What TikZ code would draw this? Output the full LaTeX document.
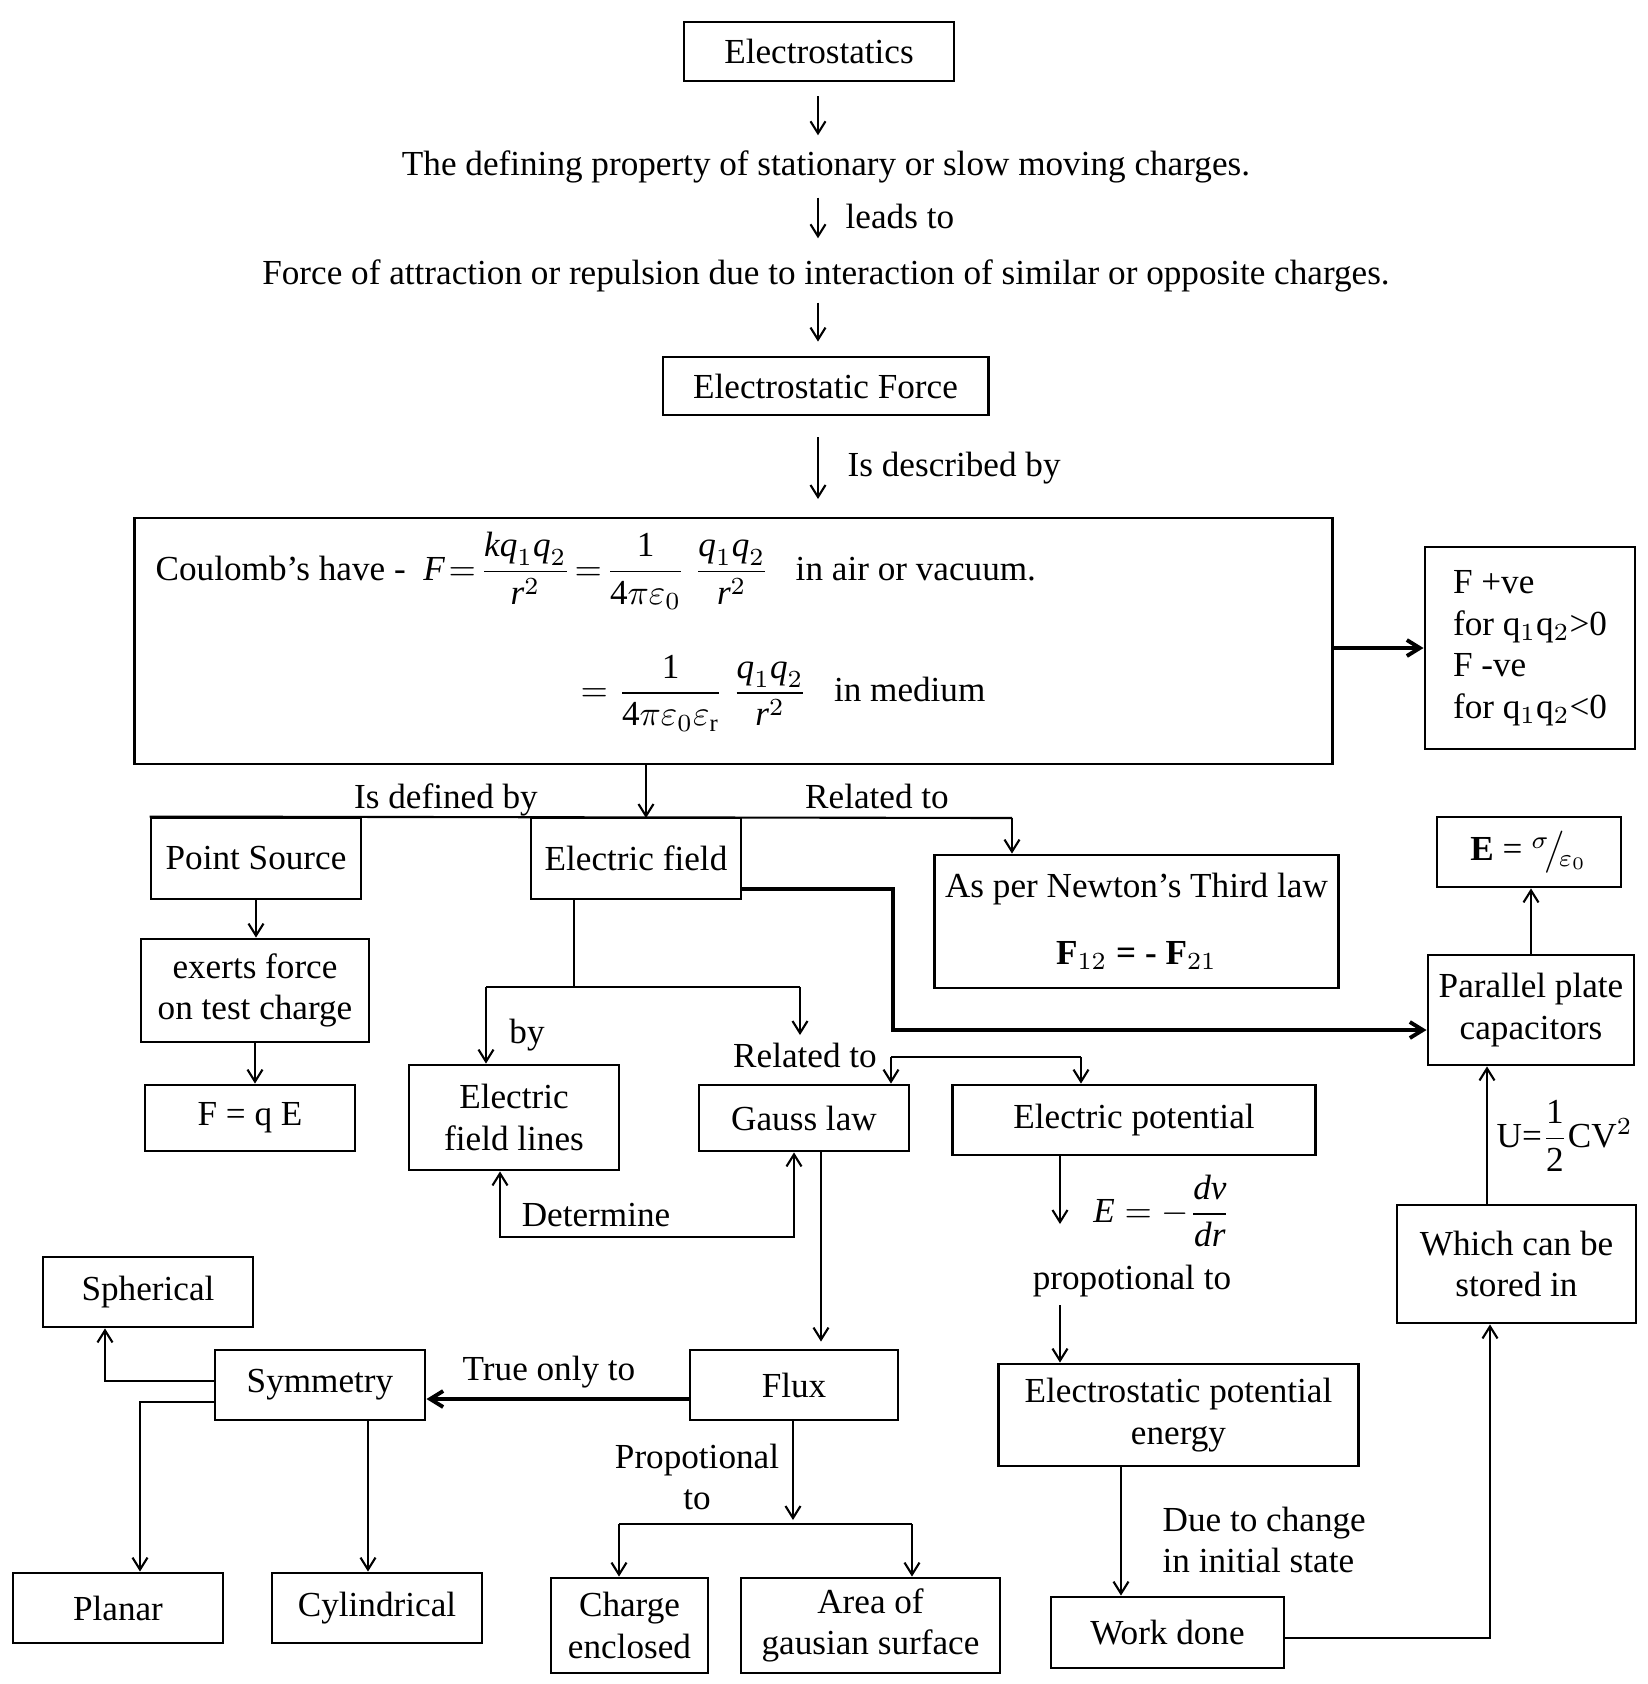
\documentclass[tikz,border=0pt]{standalone}
\usepackage{fontspec}
\setmainfont{Liberation Serif}
\usetikzlibrary{arrows.meta}
\newcommand{\iv}[1]{\textit{#1}}
\begin{document}
\begin{tikzpicture}[x=0.01cm, y=-0.01cm,
		font=\fontsize{10}{11.8}\selectfont,
		box/.style={draw, line width=0.8pt, inner sep=0pt, align=center},
		txt/.style={inner sep=0pt, text height=0.24cm, text depth=0.07cm},
		line/.style={line width=0.6pt},
		link/.style={line width=0.6pt, -{Straight Barb[length=1.2mm, width=1.5mm]}},
		twin/.style={line width=0.6pt, {Straight Barb[length=1.2mm, width=1.5mm]}-{Straight Barb[length=1.2mm, width=1.5mm]}},
		heavy/.style={line width=1.1pt, -{Straight Barb[length=1.3mm, width=1.6mm]}}]
		\useasboundingbox (0,0) rectangle (1647,1684);

		% top chain
		\coordinate (spine) at (818,0);
		\node[box, minimum width=2.70cm, minimum height=0.59cm] (estat) at (819,51.5) {Electrostatics};
		\node[txt] (defprop) at (826,167) {The defining property of stationary or slow moving charges.};
		\node[txt] (attract) at (826,276) {Force of attraction or repulsion due to interaction of similar or opposite charges.};
		\node[box, minimum width=3.25cm, minimum height=0.58cm] (eforce) at (825.5,386) {Electrostatic Force};
		\draw[link, shorten <=0.14cm, shorten >=0.155cm] (estat.south -| spine) -- (defprop.north -| spine);
		\draw[link, shorten <=0.145cm, shorten >=0.215cm] (defprop.south -| spine) -- (attract.north -| spine);
		\draw[link, shorten <=0.105cm, shorten >=0.14cm] (attract.south -| spine) -- (eforce.north -| spine);
		\draw[link, shorten <=0.21cm, shorten >=0.19cm] (eforce.south -| spine) -- (0,518 -| spine);
		\node[txt, anchor=west] at (845,220) {leads to};
		\node[txt, anchor=west] at (847,468) {Is described by};

		% coulomb's law
		\node[box, minimum width=11.97cm, minimum height=2.46cm] (coul) at (733.5,641) {};
		\node[inner sep=0pt, anchor=west] (law1) at (155,571) {Coulomb’s have -\ \ $\displaystyle \iv{F}\!=\!\frac{\iv{kq}_1\iv{q}_2}{\iv{r}^{2}}\!=\!\frac{\textrm{1}}{\textrm{4}\pi\varepsilon_0}\ \frac{\iv{q}_1\iv{q}_2}{\iv{r}^{2}}$\ \ \ in air or vacuum.};
		\node[inner sep=0pt, anchor=west] (law2) at (580,693) {$\displaystyle =\frac{\textrm{1}}{\textrm{4}\pi\varepsilon_0\varepsilon_{\mathrm{r}}}\ \frac{\iv{q}_1\iv{q}_2}{\iv{r}^{2}}$\ \ \ in medium};
		\node[box, minimum width=2.10cm, minimum height=2.02cm, align=left] (sign) at (1530,648) {F +ve\\for q$_1$q$_2$>0\\F -ve\\for q$_1$q$_2$<0};
		\draw[heavy] (coul.east |- sign.west) -- (sign.west);

		% second row
		\node[box, minimum width=2.10cm, minimum height=0.81cm] (ps) at (256,858.5) {Point Source};
		\node[box, minimum width=2.10cm, minimum height=0.81cm] (efield) at (636,858.5) {Electric field};
		\node[box, minimum width=4.03cm, minimum height=1.33cm] (newton) at (1136.5,921.5) {As per Newton’s Third law\\[0.25cm]{\bfseries F$_{12}$ = - F$_{21}$}};
		\node[box, minimum width=1.84cm, minimum height=0.70cm] (esig) at (1529,852) {{\bfseries E} = ${}^{\sigma}\!\big/\!{}_{\varepsilon_0}$};
		\node[box, minimum width=2.06cm, minimum height=1.10cm] (pp) at (1531,1010) {Parallel plate\\capacitors};
		\coordinate (cdown) at (646,818);
		\coordinate (relto) at (1012,818);
		\draw[link] (cdown |- coul.south) -- (cdown);
		\draw[line] (ps.north west) -- (relto);
		\draw[link] (relto) -- (relto |- newton.north);
		\node[txt] at (446,800) {Is defined by};
		\node[txt] at (877,800) {Related to};
		\draw[link] (pp.north) -- (pp.north |- esig.south);
		\coordinate (ef2pp) at (893,889);
		\coordinate (ppin) at (893,1030);
		\draw[heavy] (efield.east |- ef2pp) -- (ef2pp) -- (ppin) -- (pp.west |- ppin);

		% point source branch
		\node[box, minimum width=2.28cm, minimum height=1.03cm] (exerts) at (255,990.5) {exerts force\\on test charge};
		\node[box, minimum width=2.10cm, minimum height=0.66cm] (fqe) at (250,1118) {F = q E};
		\draw[link] (ps.south) -- (ps.south |- exerts.north);
		\draw[link] (exerts.south) -- (exerts.south |- fqe.north);

		% electric field branch
		\node[box, minimum width=2.10cm, minimum height=1.05cm] (efl) at (514,1117.5) {Electric\\field lines};
		\node[box, minimum width=2.10cm, minimum height=0.66cm] (gauss) at (804,1118) {Gauss law};
		\node[box, minimum width=3.62cm, minimum height=0.70cm] (epot) at (1134,1120) {Electric potential};
		\coordinate (efork) at (574,987);
		\coordinate (byl) at (486,987);
		\coordinate (byr) at (800,987);
		\coordinate (byend) at (800,1035);
		\draw[line] (efork |- efield.south) -- (efork);
		\draw[line] (byl) -- (byr);
		\draw[link] (byl) -- (byl |- efl.north);
		\draw[link] (byr) -- (byend);
		\node[txt] at (527,1035) {by};
		\node[txt] at (805,1059) {Related to};
		\coordinate (gl) at (891,1057);
		\coordinate (gr) at (1081,1057);
		\draw[line] (gl) -- (gr);
		\draw[link] (gl) -- (gl |- gauss.north);
		\draw[link] (gr) -- (gr |- epot.north);
		\coordinate (detl) at (500,1237);
		\coordinate (detr) at (794,1237);
		\draw[twin] (efl.south -| detl) -- (detl) -- (detr) -- (gauss.south -| detr);
		\node[txt] at (596,1218) {Determine};

		% gauss law and flux
		\node[box, minimum width=2.08cm, minimum height=0.70cm] (flux) at (794,1385) {Flux};
		\node[box, minimum width=2.10cm, minimum height=0.70cm] (sym) at (320,1385) {Symmetry};
		\node[box, minimum width=2.10cm, minimum height=0.70cm] (sph) at (148,1292) {Spherical};
		\node[box, minimum width=2.10cm, minimum height=0.70cm] (planar) at (118,1608) {Planar};
		\node[box, minimum width=2.10cm, minimum height=0.70cm] (cyl) at (377,1608) {Cylindrical};
		\node[box, minimum width=1.57cm, minimum height=0.95cm] (charge) at (629.5,1625.5) {Charge\\enclosed};
		\node[box, minimum width=2.59cm, minimum height=0.95cm] (area) at (870.5,1625.5) {Area of\\gausian surface};
		\coordinate (gf) at (821,0);
		\draw[link, shorten >=0.07cm] (gauss.south -| gf) -- (flux.north -| gf);
		\coordinate (tru) at (0,1399);
		\draw[heavy] (flux.west |- tru) -- (sym.east |- tru);
		\node[txt] at (549,1372) {True only to};
		\coordinate (sphc) at (105,1381);
		\coordinate (plc) at (140,1402);
		\coordinate (cylc) at (368,0);
		\draw[link] (sym.west |- sphc) -- (sphc) -- (sphc |- sph.south);
		\draw[link] (sym.west |- plc) -- (plc) -- (plc |- planar.north);
		\draw[link] (sym.south -| cylc) -- (cyl.north -| cylc);
		\coordinate (fxc) at (793,1520);
		\draw[link] (flux.south -| fxc) -- (fxc);
		\node[inner sep=0pt, align=center] at (697,1477) {Propotional\\to};
		\coordinate (brl) at (619,1524);
		\coordinate (brr) at (912,1524);
		\draw[line] (brl) -- (brr);
		\draw[link] (brl) -- (brl |- charge.north);
		\draw[link] (brr) -- (brr |- area.north);

		% potential and energy
		\node[box, minimum width=3.59cm, minimum height=1.02cm] (espe) at (1178.5,1415) {Electrostatic potential\\energy};
		\node[box, minimum width=2.33cm, minimum height=0.71cm] (work) at (1167.5,1632.5) {Work done};
		\node[box, minimum width=2.39cm, minimum height=1.18cm] (which) at (1516.5,1264) {Which can be\\stored in};
		\coordinate (epc) at (1060,1224);
		\coordinate (epc2) at (1060,1305);
		\draw[link] (epot.south -| epc) -- (epc);
		\node[inner sep=0pt] (dvdr) at (1162,1211) {$\displaystyle \iv{E}=-\frac{\iv{dv}}{\iv{dr}}$};
		\node[txt] at (1132,1281) {propotional to};
		\draw[link] (epc2) -- (epc2 |- espe.north);
		\coordinate (ewc) at (1121,0);
		\draw[link] (espe.south -| ewc) -- (work.north -| ewc);
		\node[inner sep=0pt, anchor=west, align=left] at (1162,1540) {Due to change\\in initial state};
		\coordinate (wwc) at (1490,1638);
		\draw[link] (work.east |- wwc) -- (wwc) -- (wwc |- which.south);
		\coordinate (wpc) at (1487,0);
		\draw[link] (which.north -| wpc) -- (pp.south -| wpc);
		\node[inner sep=0pt, anchor=west] at (1496,1136) {U=$\displaystyle\frac{\textrm{1}}{\textrm{2}}$CV$^2$};
	\end{tikzpicture}
\end{document}
